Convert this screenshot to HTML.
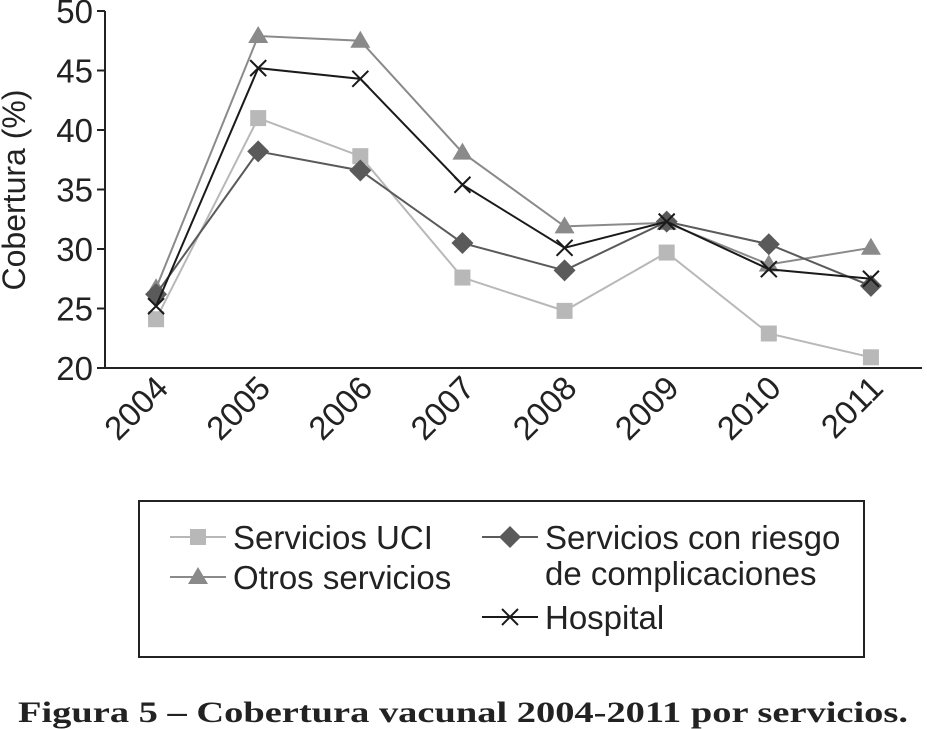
<!DOCTYPE html>
<html><head><meta charset="utf-8"><style>
body{margin:0;background:#fff;width:927px;height:729px;overflow:hidden;font-family:"Liberation Sans",sans-serif}
svg{position:absolute;left:0;top:0}
</style></head><body>
<svg id="c" width="927" height="729"></svg>
<script>
const years=["2004","2005","2006","2007","2008","2009","2010","2011"];
const uci=[24.1,41.0,37.8,27.6,24.8,29.7,22.9,20.9];
const otros=[26.7,47.9,47.5,38.1,31.9,32.2,28.7,30.1];
const riesgo=[26.2,38.2,36.6,30.5,28.2,32.3,30.4,26.9];
const hospital=[25.2,45.2,44.3,35.4,30.1,32.3,28.3,27.5];
const yTicks=[20,25,30,35,40,45,50];
const NS="http://www.w3.org/2000/svg";
const svg=document.getElementById('c');
const L=105,R=922,T=11,B=368;
const x=i=>L+(R-L)/years.length*(i+0.5);
const y=v=>B-(v-20)/30*(B-T);
function mk(t,a,p){const e=document.createElementNS(NS,t);for(const k in a)e.setAttribute(k,a[k]);(p||svg).appendChild(e);return e;}
let ax=mk('path',{d:`M${L} ${T}V${B}H${R}`,stroke:'#222',fill:'none','stroke-width':2});


yTicks.forEach(v=>{
 let t=mk('line',{x1:97,x2:L,y1:y(v),y2:y(v),stroke:'#222','stroke-width':2});
 
 
 let l=mk('text',{x:93,y:y(v)+12,'text-anchor':'end','font-size':33,fill:'#222'});l.textContent=v;
 
 
});
let yt=mk('text',{transform:'translate(25,190) rotate(-90)','text-anchor':'middle','font-size':32,fill:'#222'});yt.textContent='Cobertura (%)';


years.forEach((yr,i)=>{
 let l=mk('text',{transform:`translate(${x(i)+14},390) rotate(-45)`,'text-anchor':'end','font-size':33,fill:'#222'});l.textContent=yr;
 
 
});
function marker(kind,cx,cy,col,g){
 if(kind==='sq')return mk('rect',{x:cx-8,y:cy-8,width:16,height:16,fill:col},g);
 if(kind==='tri')return mk('path',{d:`M${cx} ${cy-10}L${cx+10} ${cy+7}L${cx-10} ${cy+7}Z`,fill:col},g);
 if(kind==='dia')return mk('path',{d:`M${cx} ${cy-11}L${cx+11} ${cy}L${cx} ${cy+11}L${cx-11} ${cy}Z`,fill:col},g);
 return mk('path',{d:`M${cx-8} ${cy-8}L${cx+8} ${cy+8}M${cx+8} ${cy-8}L${cx-8} ${cy+8}`,stroke:col,'stroke-width':2},g);
}
const series=[[uci,'#b8b8b8','sq','series-uci'],[otros,'#8a8a8a','tri','series-otros'],[riesgo,'#5a5a5a','dia','series-riesgo'],[hospital,'#1a1a1a','x','series-hospital']];
series.forEach(([d,col,k,n])=>{
 let g=mk('g',{});
 
 
 mk('polyline',{points:d.map((v,i)=>x(i)+','+y(v)).join(' '),fill:'none',stroke:col,'stroke-width':2},g);
 d.forEach((v,i)=>{let m=marker(k,x(i),y(v),col,g);
  
  });
});
let lg=mk('g',{});


mk('rect',{x:139,y:501,width:725,height:156,fill:'none',stroke:'#222','stroke-width':2},lg);
const ent=[[170,537,'#b8b8b8','sq',['Servicios UCI']],[170,577,'#8a8a8a','tri',['Otros servicios']],[482,537,'#5a5a5a','dia',['Servicios con riesgo','de complicaciones']],[482,617,'#1a1a1a','x',['Hospital']]];
ent.forEach(([lx,ly,col,k,txt])=>{
 let g=mk('g',{},lg);
 
 
 mk('line',{x1:lx,x2:lx+56,y1:ly,y2:ly,stroke:col,'stroke-width':2},g);
 marker(k,lx+28,ly,col,g);
 txt.forEach((s,j)=>{let t=mk('text',{x:lx+63,y:ly+12+j*36,'font-size':33,fill:'#222'},g);t.textContent=s;});
});
let cap=mk('text',{x:18,y:722,'font-size':30,'font-weight':'bold','font-family':'"Liberation Serif",serif',fill:'#222',textLength:890,lengthAdjust:'spacingAndGlyphs'});
cap.textContent='Figura 5 – Cobertura vacunal 2004-2011 por servicios.';


</script>
</body></html>
